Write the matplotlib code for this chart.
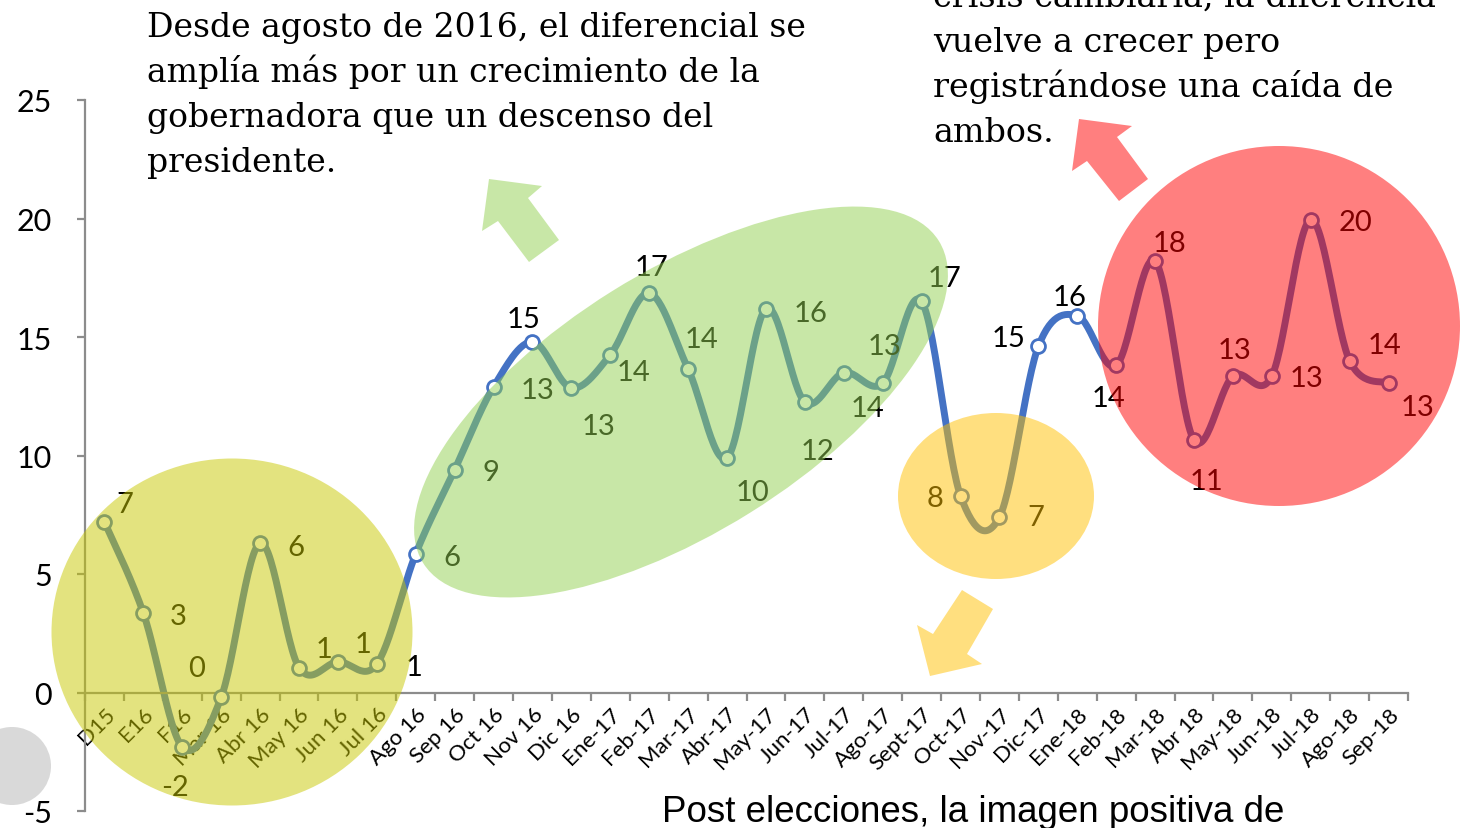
import numpy as np
import matplotlib
matplotlib.use('Agg')
import matplotlib.pyplot as plt
from matplotlib.patches import Ellipse, Polygon


# DATA
months = ['D15', 'E16', 'F16', 'Mar 16', 'Abr 16', 'May 16', 'Jun 16', 'Jul 16',
          'Ago 16', 'Sep 16', 'Oct 16', 'Nov 16', 'Dic 16', 'Ene-17', 'Feb-17',
          'Mar-17', 'Abr-17', 'May-17', 'Jun-17', 'Jul-17', 'Ago-17', 'Sept-17',
          'Oct-17', 'Nov-17', 'Dic-17', 'Ene-18', 'Feb-18', 'Mar-18', 'Abr 18',
          'May-18', 'Jun-18', 'Jul-18', 'Ago-18', 'Sep-18']
values = [7.2, 3.35, -2.3, -0.2, 6.3, 1.05, 1.3, 1.2,
          5.85, 9.4, 12.9, 14.8, 12.85, 14.25, 16.85,
          13.65, 9.9, 16.2, 12.25, 13.5, 13.05, 16.5,
          8.3, 7.4, 14.6, 15.9, 13.8, 18.2, 10.65,
          13.35, 13.35, 19.95, 14.0, 13.05]
labels = [7, 3, -2, 0, 6, 1, 1, 1,
          6, 9, 13, 15, 13, 14, 17,
          14, 10, 16, 12, 14, 13, 17,
          8, 7, 15, 16, 14, 18, 11,
          13, 13, 20, 14, 13]
yticks = [-5, 0, 5, 10, 15, 20, 25]

# label placement, pixels relative to the point
label_offsets = [(20, 18), (35, -3), (-7, -40), (-25, 29), (36, -4), (25, 19), (25, 18), (37, -3),
                 (36, -3), (36, -2), (44, -3), (-9, 23), (27, -38), (23, -17), (2, 26),
                 (13, 30), (25, -34), (45, -4), (13, -49), (24, -35), (2, 37), (23, 23),
                 (-25, -2), (36, 0), (-30, 8), (-8, 19), (-8, -33), (14, 18), (13, -41),
                 (2, 26), (35, -2), (45, -2), (35, 16), (29, -24)]

text_left = ['Desde agosto de 2016, el diferencial se',
             'amplía más por un crecimiento de la',
             'gobernadora que un descenso del',
             'presidente.']
text_right = ['crisis cambiaria, la diferencia',
              'vuelve a crecer pero',
              'registrándose una caída de',
              'ambos.']
text_bottom = 'Post elecciones, la imagen positiva de'


def smooth(x, y, n=30):
    # bezier smoothing like the spreadsheet "smoothed line"
    p = np.column_stack([x, y]).astype(float)
    pp = np.vstack([p[0], p, p[-1]])
    out = []
    for i in range(len(p) - 1):
        p0, p3 = pp[i + 1], pp[i + 2]
        p1 = p0 + (pp[i + 2] - pp[i]) / 6
        p2 = p3 - (pp[i + 3] - pp[i + 1]) / 6
        t = np.linspace(0, 1, n)[:, None]
        seg = (1 - t) ** 3 * p0 + 3 * (1 - t) ** 2 * t * p1 + 3 * (1 - t) * t ** 2 * p2 + t ** 3 * p3
        out.append(seg if i == 0 else seg[1:])
    out = np.vstack(out)
    return out[:, 0], out[:, 1]


W, H = 1461, 829
fig = plt.figure(figsize=(W / 100, H / 100), dpi=100)
grey = '#8C8C8C'
blue = '#4472C4'

ax = fig.add_axes([85 / W, 17 / H, 1323 / W, 711 / H])
x = np.arange(len(values))
sx, sy = smooth(x, values)
ax.plot(sx, sy, color=blue, lw=5, solid_capstyle='round', zorder=2)
ax.plot(x, values, 'o', ms=10, mfc='white', mec=blue, mew=2, zorder=3)

for i, (v, lab) in enumerate(zip(values, labels)):
    ax.annotate(str(lab), (i, v), xytext=label_offsets[i], textcoords='offset pixels',
                ha='center', va='center', fontsize=21, family='Lato', color='black')

ax.set_xlim(-0.5, 33.5)
ax.set_ylim(-5, 25)
ax.spines['top'].set_visible(False)
ax.spines['right'].set_visible(False)
ax.spines['bottom'].set_position(('data', 0))
for s in ['left', 'bottom']:
    ax.spines[s].set_color(grey)
    ax.spines[s].set_linewidth(1.6)

ax.set_yticks(yticks)
ax.set_yticklabels([str(t) for t in yticks], fontsize=22, family='Lato')
ax.tick_params(axis='y', direction='out', length=6, width=1.6, color=grey, pad=18)

ax.set_xticks(x)
ax.set_xticklabels(months, rotation=45, ha='right', va='top', rotation_mode='anchor',
                   fontsize=16, family='Lato')
ax.tick_params(axis='x', which='major', length=0, pad=8)
ax.set_xticks(np.arange(-0.5, 34, 1), minor=True)
ax.tick_params(axis='x', which='minor', direction='out', length=6, width=1.6, color=grey)
ax.patch.set_alpha(0)

# overlay shapes, pixel coordinates of the figure
ov = fig.add_axes([0, 0, 1, 1])
ov.set_xlim(0, W)
ov.set_ylim(H, 0)
ov.axis('off')
ov.patch.set_alpha(0)

c_yel = '#C8C800'
c_grn = '#92D050'
c_org = '#FFC000'
c_red = '#FF0000'
ov.add_patch(Ellipse((12, 767), 78, 78, color='#D9D9D9', lw=0))
ov.add_patch(Ellipse((232, 633), 361, 347, color=c_yel, alpha=0.5, lw=0))
ov.add_patch(Ellipse((681, 403), 608, 261, angle=-32, color=c_grn, alpha=0.5, lw=0))
ov.add_patch(Ellipse((996, 497), 196, 166, color=c_org, alpha=0.5, lw=0))
ov.add_patch(Ellipse((1279, 327), 362, 360, color=c_red, alpha=0.5, lw=0))

ov.add_patch(Polygon([(489, 180), (542, 187), (528, 199), (559, 241), (529, 263), (498, 222), (482, 232)],
                     closed=True, color=c_grn, alpha=0.5, lw=0))
ov.add_patch(Polygon([(1079, 120), (1132, 127), (1117, 138), (1148, 180), (1119, 202), (1087, 162), (1072, 172)],
                     closed=True, color=c_red, alpha=0.5, lw=0))
ov.add_patch(Polygon([(962, 591), (993, 610), (967, 655), (982, 665), (930, 677), (917, 626), (933, 635)],
                     closed=True, color=c_org, alpha=0.5, lw=0))

for k, line in enumerate(text_left):
    fig.text(147 / W, 1 - (37 + 45 * k) / H, line, family='DejaVu Serif', fontsize=23.8,
             va='baseline', ha='left')
for k, line in enumerate(text_right):
    fig.text(933 / W, 1 - (7 + 45 * k) / H, line, family='DejaVu Serif', fontsize=24,
             va='baseline', ha='left')
fig.text(662 / W, 1 - 822 / H, text_bottom, family='Liberation Sans', fontsize=26.5,
         va='baseline', ha='left')

fig.savefig('out.png', dpi=100)
